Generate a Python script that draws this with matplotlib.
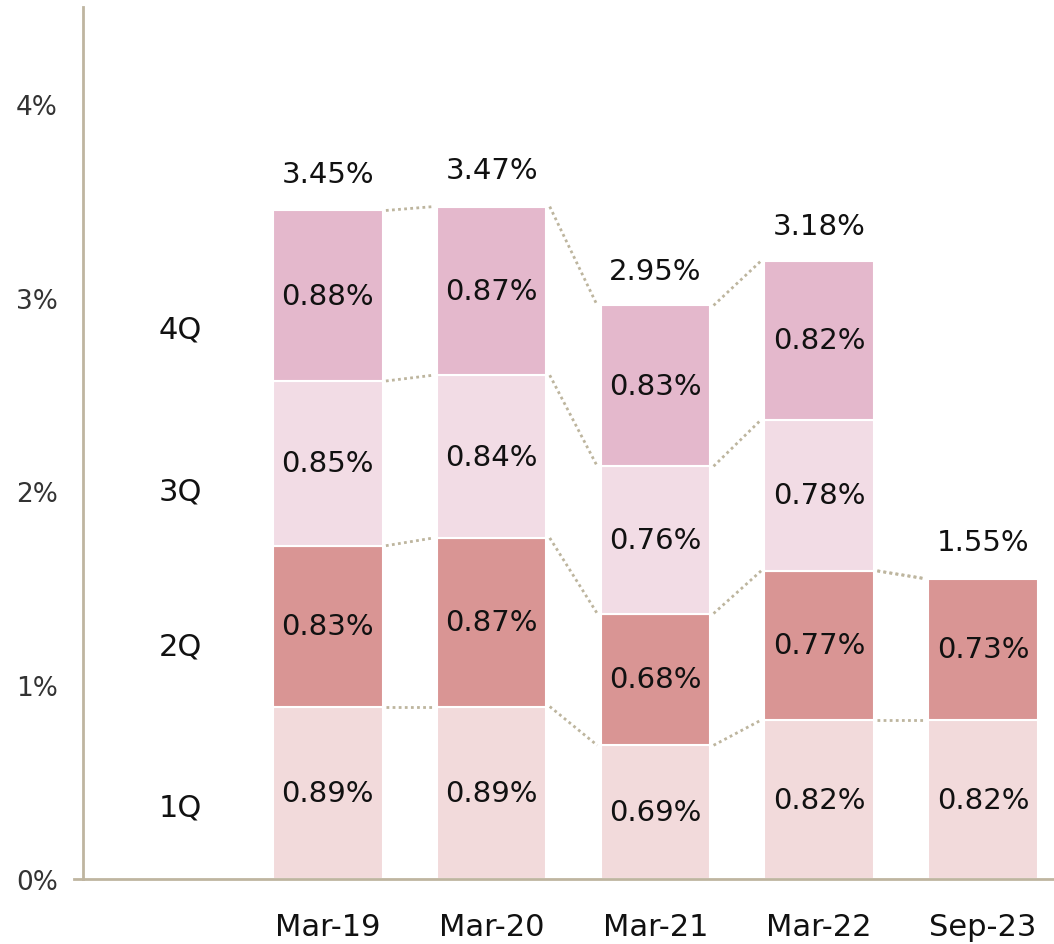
import matplotlib
matplotlib.use("Agg")
import matplotlib.pyplot as plt
import numpy as np

categories = ["", "Mar-19", "Mar-20", "Mar-21", "Mar-22", "Sep-23"]
q1 = [0.89, 0.89, 0.69, 0.82, 0.82]
q2 = [0.83, 0.87, 0.68, 0.77, 0.73]
q3 = [0.85, 0.84, 0.76, 0.78, 0.0]
q4 = [0.88, 0.87, 0.83, 0.82, 0.0]
totals = [3.45, 3.47, 2.95, 3.18, 1.55]
series_names = ["1Q", "2Q", "3Q", "4Q"]
series_label_y = [0.37, 1.2, 2.0, 2.84]
yticks = [0, 1, 2, 3, 4]
ytick_labels = ["0%", "1%", "2%", "3%", "4%"]

colors = ["#F2DADB", "#D99594", "#F2DCE5", "#E4B8CC"]
axis_color = "#BFB5A0"
dot_color = "#BDB59E"

plt.rcParams["font.family"] = ["DejaVu Sans"]

fig = plt.figure(figsize=(10.54, 9.45), dpi=100)
ax = fig.add_axes([83 / 1054, 65 / 945, 1 - 83 / 1054, (880 - 8) / 945])

x = np.arange(1, len(categories))
width = 0.67
series = [q1, q2, q3, q4]
bottoms = np.zeros(len(x))
tops_list = []
for s, c in zip(series, colors):
    vals = np.array(s)
    mask = vals > 0
    ax.bar(x[mask], vals[mask], width, bottom=bottoms[mask], color=c,
           edgecolor="white", linewidth=1.5, zorder=2)
    for xi, v, b in zip(x[mask], vals[mask], bottoms[mask]):
        ax.text(xi, b + v / 2, f"{v:.2f}%", ha="center", va="center",
                fontsize=21, color="#111111", zorder=3)
    bottoms = bottoms + vals
    tops_list.append((bottoms.copy(), mask.copy()))

# dotted connectors
for tops, mask in tops_list:
    for i in range(len(x) - 1):
        if mask[i] and mask[i + 1]:
            ax.plot([x[i] + width / 2 + 0.02, x[i + 1] - width / 2 - 0.02],
                    [tops[i], tops[i + 1]], linestyle=(0, (1, 1.2)),
                    color=dot_color, linewidth=2.0, zorder=1)
# connect 2Q top of Mar-22 to Sep-23 total
ax.plot([x[3] + width / 2 + 0.02, x[4] - width / 2 - 0.02],
        [q1[3] + q2[3], totals[4]], linestyle=(0, (1, 1.2)),
        color=dot_color, linewidth=2.0, zorder=1)

for xi, t in zip(x, totals):
    ax.text(xi, t + 0.19, f"{t:.2f}%", ha="center", va="center",
            fontsize=21, color="#111111")

for name, yy in zip(series_names, series_label_y):
    ax.text(0.1, yy, name, ha="center", va="center", fontsize=22,
            color="#111111")

ax.set_xlim(-0.494, 5.433)
ax.set_ylim(0, 4.5)
ax.set_xticks(x)
ax.set_xticklabels(categories[1:], fontsize=22, color="#111111")
ax.set_yticks(yticks)
ax.set_yticklabels(ytick_labels, fontsize=19, color="#333333")
ax.tick_params(axis="x", length=0, pad=24)
ax.tick_params(axis="y", length=0, pad=18)

for side in ["top", "right"]:
    ax.spines[side].set_visible(False)
for side in ["left", "bottom"]:
    ax.spines[side].set_color(axis_color)
    ax.spines[side].set_linewidth(2)
ax.plot([-0.55, -0.494], [0, 0], color=axis_color, linewidth=2,
        clip_on=False)

fig.savefig("out.png", dpi=100)
